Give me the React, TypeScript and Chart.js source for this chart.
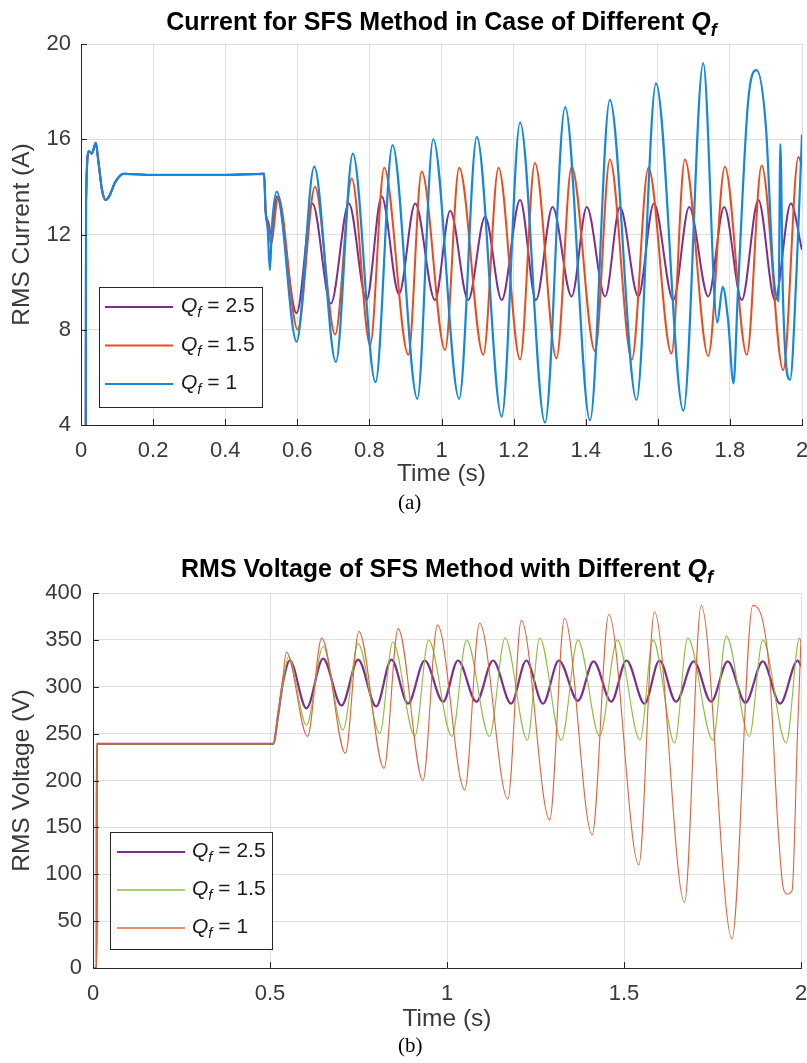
import React, { useEffect, useRef } from 'react';
import { Chart, registerables } from 'chart.js';

Chart.register(...registerables);

// ---------------- Data: (a) RMS current ----------------
const curStartT = [0, 0.013, 0.014, 0.022, 0.03, 0.041, 0.048, 0.058, 0.068, 0.078, 0.095, 0.118, 0.2, 0.3, 0.4, 0.508];
const curStartI = [0, 0, 13.4, 15.5, 15.4, 15.85, 15.1, 13.9, 13.45, 13.6, 14.2, 14.55, 14.5, 14.5, 14.5, 14.55];

const curT_q25 = [0.512, 0.52, 0.527, 0.543, 0.598, 0.642, 0.693, 0.743, 0.792, 0.834, 0.882, 0.927, 0.982, 1.024, 1.074, 1.121, 1.167, 1.218, 1.262, 1.308, 1.361, 1.403, 1.454, 1.495, 1.546, 1.589, 1.643, 1.687, 1.74, 1.784, 1.833, 1.879, 1.925, 1.969, 2.0];
const curI_q25 = [13.0, 12.5, 12.0, 13.6, 8.7, 13.3, 9.1, 13.3, 9.25, 13.6, 9.5, 13.3, 9.25, 13.0, 9.25, 12.75, 9.25, 13.45, 9.25, 13.15, 9.4, 13.15, 9.4, 13.15, 9.4, 13.3, 9.25, 13.15, 9.4, 13.15, 9.25, 13.45, 9.25, 13.3, 11.35];

const curT_q15 = [0.512, 0.52, 0.527, 0.547, 0.601, 0.649, 0.705, 0.751, 0.802, 0.841, 0.908, 0.945, 1.01, 1.049, 1.116, 1.158, 1.218, 1.259, 1.319, 1.361, 1.426, 1.467, 1.528, 1.574, 1.638, 1.675, 1.74, 1.786, 1.847, 1.888, 1.948, 1.99, 2.0];
const curI_q15 = [13.0, 12.3, 11.6, 13.6, 8.0, 14.0, 7.8, 14.35, 7.35, 14.8, 6.95, 14.65, 7.15, 14.8, 6.95, 14.8, 6.75, 15.0, 6.8, 14.85, 7.1, 15.15, 6.75, 14.8, 7.0, 15.15, 6.9, 14.85, 6.95, 14.9, 6.3, 15.25, 14.9];

const curT_q1 = [0.512, 0.518, 0.524, 0.53, 0.543, 0.598, 0.647, 0.707, 0.754, 0.817, 0.864, 0.933, 0.977, 1.049, 1.098, 1.167, 1.218, 1.287, 1.343, 1.412, 1.467, 1.541, 1.595, 1.671, 1.726, 1.765, 1.78, 1.795, 1.81, 1.822, 1.85, 1.874, 1.9, 1.92, 1.935, 1.94, 1.947, 1.967, 1.985, 2.0];
const curI_q1 = [13.0, 12.2, 10.5, 12.4, 13.8, 7.5, 14.85, 6.65, 15.4, 5.8, 15.75, 5.1, 16.0, 5.1, 16.1, 4.35, 16.7, 4.1, 17.35, 4.2, 17.65, 5.05, 18.35, 4.6, 19.2, 8.3, 9.8, 8.4, 5.75, 9.5, 17.5, 18.9, 16.5, 10.5, 9.2, 15.8, 9.5, 5.9, 10.5, 16.2];

// ---------------- Data: (b) RMS voltage ----------------
const voltStartT = [0, 0.0103, 0.0106, 0.2, 0.4, 0.509];
const voltStartV = [0, 0, 239, 239, 239, 239];

const voltT_q25 = [0.523, 0.537, 0.556, 0.603, 0.65, 0.702, 0.749, 0.8, 0.843, 0.89, 0.937, 0.989, 1.031, 1.083, 1.13, 1.181, 1.224, 1.271, 1.316, 1.37, 1.414, 1.464, 1.507, 1.558, 1.6, 1.647, 1.697, 1.746, 1.793, 1.843, 1.892, 1.941, 1.991, 2.0];
const voltV_q25 = [270, 305, 328, 277, 330, 280, 329, 279, 329, 282, 328, 284, 328, 284, 328, 282, 328, 282, 328, 285, 327, 284, 328, 282, 328, 284, 327, 284, 327, 283, 327, 282, 328, 322];

const voltT_q15 = [0.523, 0.537, 0.552, 0.603, 0.65, 0.706, 0.749, 0.81, 0.847, 0.909, 0.948, 1.014, 1.055, 1.12, 1.164, 1.227, 1.262, 1.323, 1.37, 1.431, 1.481, 1.545, 1.582, 1.643, 1.68, 1.751, 1.789, 1.854, 1.892, 1.958, 1.996, 2.0];
const voltV_q15 = [271, 305, 332, 259, 343, 254, 346, 250, 348, 247, 350, 247, 350, 247, 352, 243, 352, 243, 350, 247, 350, 243, 350, 240, 352, 243, 354, 247, 350, 240, 352, 348];

const voltT_q1 = [0.523, 0.537, 0.546, 0.606, 0.646, 0.713, 0.751, 0.822, 0.862, 0.932, 0.973, 1.05, 1.092, 1.172, 1.21, 1.29, 1.332, 1.41, 1.457, 1.542, 1.586, 1.671, 1.718, 1.805, 1.864, 1.91, 1.935, 1.95, 1.962, 1.975, 1.99, 2.0];
const voltV_q1 = [272, 312, 337, 247, 352, 229, 359, 213, 362, 200, 366, 190, 368, 180, 371, 158, 373, 142, 377, 110, 380, 70, 387, 31, 387, 320, 150, 85, 79, 83, 250, 350];

// ---------------- Labels ----------------
const legendLabels = ['2.5', '1.5', '1'];
const titleA = 'Current for SFS Method in Case of Different ';
const titleB = 'RMS Voltage of SFS Method with Different ';
const yLabelA = 'RMS Current (A)';
const yLabelB = 'RMS Voltage (V)';
const xLabel = 'Time (s)';

const FONT = '"Liberation Sans", Arial, Helvetica, sans-serif';
const SERIF = '"Liberation Serif", "Times New Roman", serif';

function pts(t: number[], v: number[]) {
  return t.map((x, i) => ({ x, y: v[i] }));
}

const fmt = (v: any) => String(Math.round(Number(v) * 10) / 10);

const overlay = {
  id: 'overlay',
  afterDraw(chart: any, _args: any, o: any) {
    const ctx = chart.ctx as CanvasRenderingContext2D;
    const ca = chart.chartArea;
    ctx.save();
    // inward tick marks
    ctx.strokeStyle = '#262626';
    ctx.lineWidth = 1;
    const xs = chart.scales.x;
    const ys = chart.scales.y;
    xs.ticks.forEach((t: any) => {
      const px = Math.round(xs.getPixelForValue(t.value)) + 0.5;
      ctx.beginPath();
      ctx.moveTo(px, ca.bottom);
      ctx.lineTo(px, ca.bottom - 6);
      ctx.stroke();
    });
    ys.ticks.forEach((t: any) => {
      const py = Math.round(ys.getPixelForValue(t.value)) + 0.5;
      ctx.beginPath();
      ctx.moveTo(ca.left, py);
      ctx.lineTo(ca.left + 6, py);
      ctx.stroke();
    });

    // title with italic Q and subscript f
    const ts = o.titleSize;
    const ss = Math.round(ts * 0.7);
    ctx.fillStyle = '#000';
    ctx.textBaseline = 'alphabetic';
    ctx.textAlign = 'left';
    ctx.font = `bold ${ts}px ${FONT}`;
    const w1 = ctx.measureText(o.title).width;
    ctx.font = `italic bold ${ts}px ${FONT}`;
    const w2 = ctx.measureText('Q').width;
    ctx.font = `italic bold ${ss}px ${FONT}`;
    const w3 = ctx.measureText('f').width;
    let x = (ca.left + ca.right) / 2 - (w1 + w2 + w3) / 2;
    ctx.font = `bold ${ts}px ${FONT}`;
    ctx.fillText(o.title, x, o.titleY);
    x += w1;
    ctx.font = `italic bold ${ts}px ${FONT}`;
    ctx.fillText('Q', x, o.titleY);
    x += w2;
    ctx.font = `italic bold ${ss}px ${FONT}`;
    ctx.fillText('f', x, o.titleY + 6);

    // legend
    const L = o.legend;
    ctx.fillStyle = '#fff';
    ctx.fillRect(L.x, L.y, L.w, L.h);
    ctx.strokeStyle = '#262626';
    ctx.lineWidth = 1;
    ctx.strokeRect(L.x + 0.5, L.y + 0.5, L.w, L.h);
    const fs = L.fontSize;
    const fsub = Math.round(fs * 0.72);
    L.items.forEach((it: any, i: number) => {
      const ly = L.itemY[i];
      ctx.strokeStyle = it.color;
      ctx.lineWidth = it.width;
      ctx.beginPath();
      ctx.moveTo(L.lineX1, ly);
      ctx.lineTo(L.lineX2, ly);
      ctx.stroke();
      ctx.fillStyle = '#1a1a1a';
      let tx = L.textX;
      const by = ly + 5;
      ctx.font = `italic ${fs}px ${FONT}`;
      ctx.fillText('Q', tx, by);
      tx += ctx.measureText('Q').width;
      ctx.font = `italic ${fsub}px ${FONT}`;
      ctx.fillText('f', tx, by + 5);
      tx += ctx.measureText('f').width;
      ctx.font = `${fs}px ${FONT}`;
      ctx.fillText(' = ' + it.label, tx, by);
    });
    ctx.restore();
  },
};

const TICK_FONT = { family: FONT, size: 22 };
const LABEL_FONT = { family: FONT, size: 24.5 };

function makeOptions(p: any) {
  return {
    responsive: false,
    animation: false,
    devicePixelRatio: 1,
    layout: { padding: { left: 0, right: p.padRight, top: p.padTop, bottom: 0 } },
    plugins: {
      legend: { display: false },
      tooltip: { enabled: false },
      title: { display: false },
      overlay: p.overlay,
    },
    elements: { point: { radius: 0 }, line: { cubicInterpolationMode: 'monotone' } },
    scales: {
      x: {
        type: 'linear',
        min: 0,
        max: 2,
        ticks: {
          stepSize: p.xStep,
          color: '#3a3a3a',
          font: TICK_FONT,
          padding: 13,
          maxRotation: 0,
          autoSkip: false,
          callback: fmt,
        },
        grid: { color: '#dfdfdf', drawTicks: false, lineWidth: 1 },
        border: { color: '#262626', width: 1 },
        title: {
          display: true,
          text: xLabel,
          color: '#3a3a3a',
          font: LABEL_FONT,
          padding: { top: 0, bottom: p.xTitlePad },
        },
        afterFit: (s: any) => {
          s.height = p.xHeight;
          s.paddingLeft = 0;
          s.paddingRight = 0;
        },
      },
      y: {
        type: 'linear',
        min: p.yMin,
        max: p.yMax,
        ticks: {
          stepSize: p.yStep,
          color: '#3a3a3a',
          font: TICK_FONT,
          padding: p.yTickPad,
          autoSkip: false,
          callback: fmt,
        },
        grid: { color: '#dfdfdf', drawTicks: false, lineWidth: 1 },
        border: { color: '#262626', width: 1 },
        title: {
          display: true,
          text: p.yLabel,
          color: '#3a3a3a',
          font: LABEL_FONT,
          padding: { top: 8, bottom: 0 },
        },
        afterFit: (s: any) => {
          s.width = p.yWidth;
          s.paddingTop = 0;
          s.paddingBottom = 0;
        },
      },
    },
  };
}

const C_PURPLE = '#7E2F8E';
const C_RED_A = '#EE4A1C';
const C_BLUE = '#1487DE';
const C_GREEN = '#8CC03E';
const C_RED_B = '#E4603A';

function configA(): any {
  return {
    type: 'line',
    data: {
      datasets: [
        { data: pts([...curStartT, ...curT_q25], [...curStartI, ...curI_q25]), borderColor: C_PURPLE, borderWidth: 2, order: 3 },
        { data: pts([...curStartT, ...curT_q15], [...curStartI, ...curI_q15]), borderColor: C_RED_A, borderWidth: 2, order: 2 },
        { data: pts([...curStartT, ...curT_q1], [...curStartI, ...curI_q1]), borderColor: C_BLUE, borderWidth: 2.2, order: 1 },
      ],
    },
    options: makeOptions({
      padRight: 5,
      padTop: 44,
      xStep: 0.2,
      xTitlePad: 41,
      xHeight: 105,
      yMin: 4,
      yMax: 20,
      yStep: 4,
      yTickPad: 10,
      yWidth: 81,
      yLabel: yLabelA,
      overlay: {
        title: titleA,
        titleSize: 25,
        titleY: 29.5,
        legend: {
          x: 99, y: 287, w: 163, h: 120,
          itemY: [307, 345.5, 384],
          lineX1: 105, lineX2: 173, textX: 181, fontSize: 21,
          items: [
            { label: legendLabels[0], color: C_PURPLE, width: 2 },
            { label: legendLabels[1], color: C_RED_A, width: 2 },
            { label: legendLabels[2], color: C_BLUE, width: 2 },
          ],
        },
      },
    }),
    plugins: [overlay],
  };
}

function configB(): any {
  return {
    type: 'line',
    data: {
      datasets: [
        { data: pts([...voltStartT, ...voltT_q25], [...voltStartV, ...voltV_q25]), borderColor: C_PURPLE, borderWidth: 2.2, order: 3 },
        { data: pts([...voltStartT, ...voltT_q15], [...voltStartV, ...voltV_q15]), borderColor: C_GREEN, borderWidth: 1.1, order: 2 },
        { data: pts([...voltStartT, ...voltT_q1], [...voltStartV, ...voltV_q1]), borderColor: C_RED_B, borderWidth: 1.1, order: 1 },
      ],
    },
    options: makeOptions({
      padRight: 6,
      padTop: 63,
      xStep: 0.5,
      xTitlePad: 29,
      xHeight: 95,
      yMin: 0,
      yMax: 400,
      yStep: 50,
      yTickPad: 11,
      yWidth: 93,
      yLabel: yLabelB,
      overlay: {
        title: titleB,
        titleSize: 25,
        titleY: 46.7,
        legend: {
          x: 110, y: 302, w: 162, h: 117,
          itemY: [322, 360, 398],
          lineX1: 117, lineX2: 185, textX: 192, fontSize: 21,
          items: [
            { label: legendLabels[0], color: C_PURPLE, width: 2.2 },
            { label: legendLabels[1], color: C_GREEN, width: 1.3 },
            { label: legendLabels[2], color: C_RED_B, width: 1.3 },
          ],
        },
      },
    }),
    plugins: [overlay],
  };
}

function ChartCanvas({ make, top, height }: { make: () => any; top: number; height: number }) {
  const ref = useRef<HTMLCanvasElement>(null);
  useEffect(() => {
    const c = new Chart(ref.current as HTMLCanvasElement, make());
    return () => c.destroy();
  }, []);
  return (
    <canvas
      ref={ref}
      width={807}
      height={height}
      style={{ position: 'absolute', left: 0, top, width: 807, height, display: 'block' }}
    />
  );
}

export default function App() {
  return (
    <div style={{ position: 'absolute', left: 0, top: 0, width: 807, height: 1063, background: '#fff', overflow: 'hidden' }}>
      <ChartCanvas make={configA} top={0} height={530} />
      <ChartCanvas make={configB} top={530} height={533} />
      <div style={{ position: 'absolute', left: 398, top: 492, font: `21px ${SERIF}`, lineHeight: '21px', color: '#000' }}>(a)</div>
      <div style={{ position: 'absolute', left: 398, top: 1035, font: `21px ${SERIF}`, lineHeight: '21px', color: '#000' }}>(b)</div>
    </div>
  );
}
